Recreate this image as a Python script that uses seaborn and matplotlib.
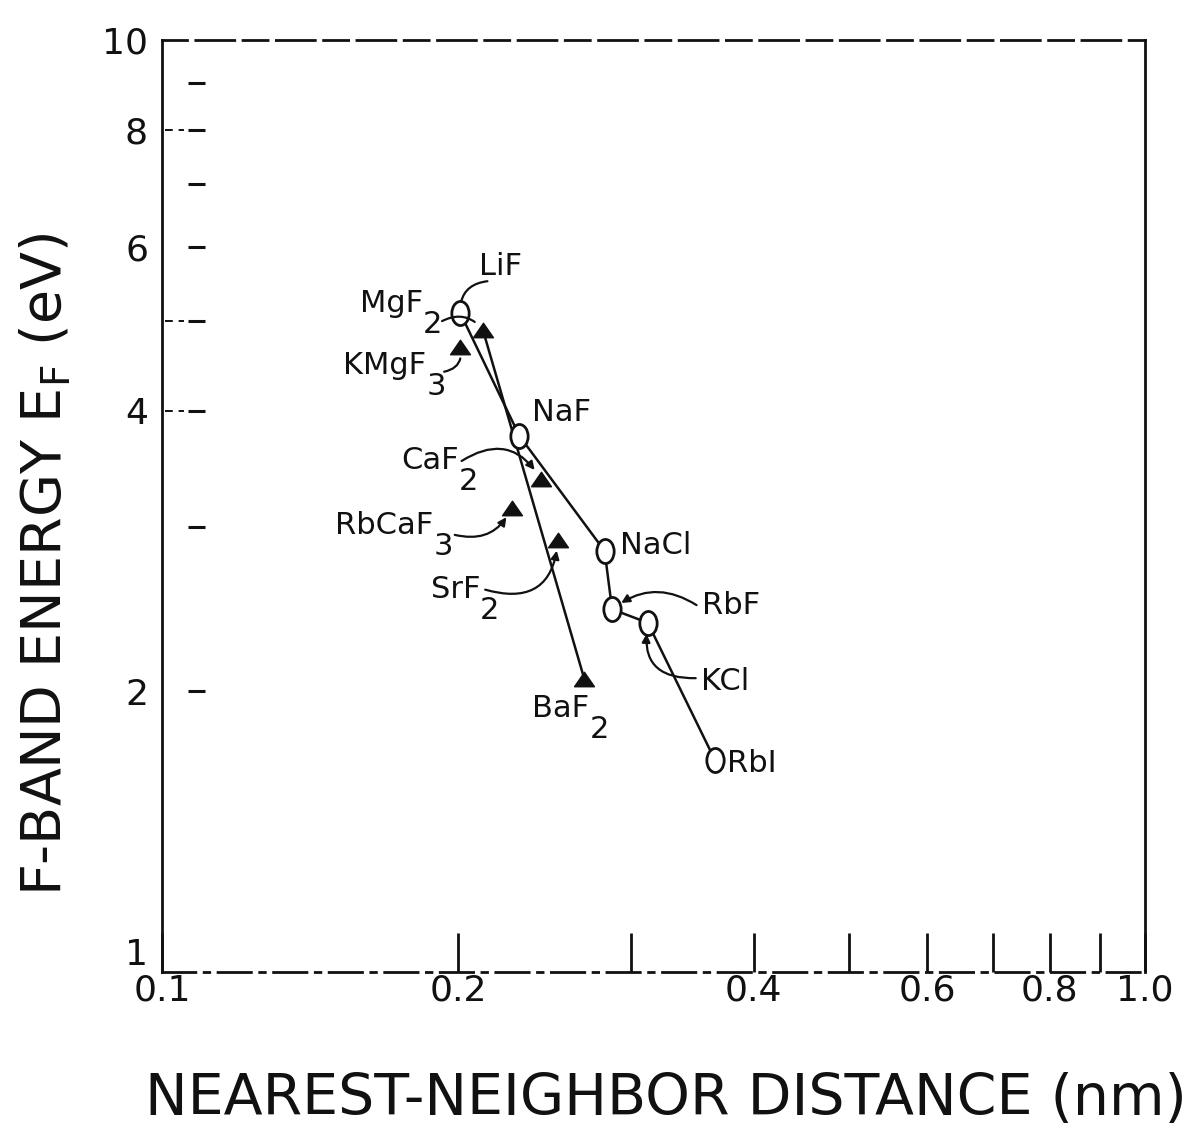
import matplotlib
matplotlib.use("Agg")
import matplotlib.pyplot as plt
from matplotlib.markers import MarkerStyle
from matplotlib.transforms import Affine2D
import pandas as pd
import seaborn as sns

# Alkali halides (open circles)
halide_names = ["LiF", "NaF", "NaCl", "RbF", "KCl", "RbI"]
halide_dist = [0.201, 0.231, 0.282, 0.287, 0.312, 0.365]
halide_energy = [5.10, 3.76, 2.83, 2.45, 2.37, 1.69]

# Fluorides (filled triangles)
fluoride_names = ["MgF2", "KMgF3", "CaF2", "RbCaF3", "SrF2", "BaF2"]
fluoride_dist = [0.212, 0.201, 0.243, 0.227, 0.253, 0.269]
fluoride_energy = [4.89, 4.68, 3.38, 3.15, 2.91, 2.06]
fluoride_trend = ["MgF2", "BaF2"]

x_ticks = [0.1, 0.2, 0.3, 0.4, 0.5, 0.6, 0.7, 0.8, 0.9, 1.0]
x_tick_labels = ["0.1", "0.2", "", "0.4", "", "0.6", "", "0.8", "", "1.0"]
y_ticks = [1, 2, 4, 6, 8, 10]
y_tick_labels = ["1", "2", "4", "6", "8", "10"]
y_dash_ticks = [2, 3, 4, 5, 6, 7, 8, 9]
y_long_dash_ticks = [4, 5, 8]

# label text, subscript, offset (pt), alignment,
# leader: (start on "main"/"sub", start point in its box, rad, arrowstyle)
labels = {
    "LiF":    ("LiF", "", (29, 33), "center", ("main", (0.2, 0.0), 0.45, "-")),
    "MgF2":   ("MgF", "2", (-66, 19), "center", ("sub", (1.0, 0.6), -0.4, "-")),
    "KMgF3":  ("KMgF", "3", (-54, -13), "center", ("sub", (0.9, 1.0), 0.5, "-")),
    "NaF":    ("NaF", "", (9, 17), "left", None),
    "CaF2":   ("CaF", "2", (-80, 13), "center", ("main", (1.05, 0.5), -0.5, "-|>")),
    "RbCaF3": ("RbCaF", "3", (-92, -13), "center", ("sub", (1.1, 0.9), 0.4, "-|>")),
    "SrF2":   ("SrF", "2", (-74, -36), "center", ("main", (1.1, 0.5), 0.6, "-|>")),
    "NaCl":   ("NaCl", "", (11, 4), "left", None),
    "RbF":    ("RbF", "", (65, 3), "left", ("main", (-0.1, 0.5), 0.35, "-|>")),
    "KCl":    ("KCl", "", (38, -42), "left", ("main", (-0.1, 0.6), -0.6, "-|>")),
    "BaF2":   ("BaF", "2", (-17, -21), "center", None),
    "RbI":    ("RbI", "", (9, -3), "left", None),
}

halides = pd.DataFrame({"name": halide_names, "d": halide_dist, "E": halide_energy})
fluorides = pd.DataFrame({"name": fluoride_names, "d": fluoride_dist, "E": fluoride_energy})
trend = fluorides.set_index("name").loc[fluoride_trend].reset_index()

sns.set_theme(style="white")
plt.rcParams["font.family"] = ["DejaVu Sans"]
plt.rcParams["mathtext.default"] = "regular"

fig = plt.figure(figsize=(11.95, 11.36), dpi=100)
ax = fig.add_axes([162 / 1195, 1 - 972 / 1136, 983 / 1195, 932 / 1136])
ax.set_xscale("log")
ax.set_yscale("log")

ink = "#111111"
sns.lineplot(data=halides, x="d", y="E", sort=True, color=ink, lw=1.8, ax=ax, zorder=2)
sns.lineplot(data=trend, x="d", y="E", sort=True, color=ink, lw=1.8, ax=ax, zorder=2)

ellipse = MarkerStyle("o", transform=Affine2D().scale(0.72, 1.0))
tri = MarkerStyle("^", transform=Affine2D().scale(1.1, 0.8))
sns.scatterplot(data=halides, x="d", y="E", marker=ellipse, s=300, facecolor="white",
                edgecolor=ink, linewidth=2.0, ax=ax, zorder=3)
sns.scatterplot(data=fluorides, x="d", y="E", marker=tri, s=170, color=ink,
                edgecolor=ink, linewidth=1.0, ax=ax, zorder=3)

points = pd.concat([halides, fluorides]).set_index("name")
for name, (main, sub, off, ha, leader) in labels.items():
    px, py = points.loc[name, "d"], points.loc[name, "E"]
    t = ax.annotate(main, xy=(px, py), xytext=off, textcoords="offset points",
                    ha=ha, va="center", fontsize=22, color=ink, zorder=4)
    s = None
    if sub:
        s = ax.annotate(sub, xy=(1.0, 0.5), xycoords=t, xytext=(0, -15),
                        textcoords="offset points", ha="left", va="center",
                        fontsize=22, color=ink, zorder=4)
    if leader is not None:
        which, start, rad, style = leader
        anchor = s if (which == "sub" and s is not None) else t
        ax.annotate("", xy=(px, py), xytext=start, textcoords=anchor,
                    arrowprops=dict(arrowstyle=style, color=ink, lw=1.6,
                                    shrinkA=0, shrinkB=8, mutation_scale=12,
                                    connectionstyle=f"arc3,rad={rad}"),
                    zorder=4)

# axes frame
for side in ["left", "right", "top", "bottom"]:
    ax.spines[side].set_visible(True)
    ax.spines[side].set_color(ink)
    ax.spines[side].set_linewidth(2.0)
ax.spines["top"].set_linestyle((0, (9, 3, 14, 3)))
ax.spines["bottom"].set_linestyle((0, (12, 3, 2, 3)))

ax.set_xlim(0.1, 1.0)
ax.set_ylim(1, 10)
ax.minorticks_off()
ax.set_xticks(x_ticks)
ax.set_xticklabels(x_tick_labels)
ax.set_yticks(y_ticks)
ax.set_yticklabels(y_tick_labels)
ax.tick_params(axis="x", which="major", bottom=True, direction="in", length=28,
               width=2.0, color=ink, labelsize=26, labelcolor=ink, pad=1)
ax.tick_params(axis="y", which="major", left=False, length=0, labelsize=26,
               labelcolor=ink, pad=10)
ax.get_yticklabels()[0].set_va("bottom")

# short detached tick dashes on the energy axis
ytrans = ax.get_yaxis_transform()
ax.hlines(y_dash_ticks, 0.026, 0.044, transform=ytrans, color=ink, lw=2.2, zorder=2)
ax.hlines(y_long_dash_ticks, 0.003, 0.022, transform=ytrans, color=ink, lw=1.4,
          linestyles=(0, (4, 3)), zorder=2)

ax.set_xlabel("NEAREST-NEIGHBOR DISTANCE (nm)", fontsize=41, color=ink)
ax.xaxis.set_label_coords(0.513, -0.137)
ax.xaxis.label.set_va("center")
ax.set_ylabel("F-BAND ENERGY E$_F$ (eV)", fontsize=40, color=ink)
ax.yaxis.set_label_coords(-0.118, 0.437)
ax.yaxis.label.set_va("center")

fig.savefig("out.png", dpi=100)
